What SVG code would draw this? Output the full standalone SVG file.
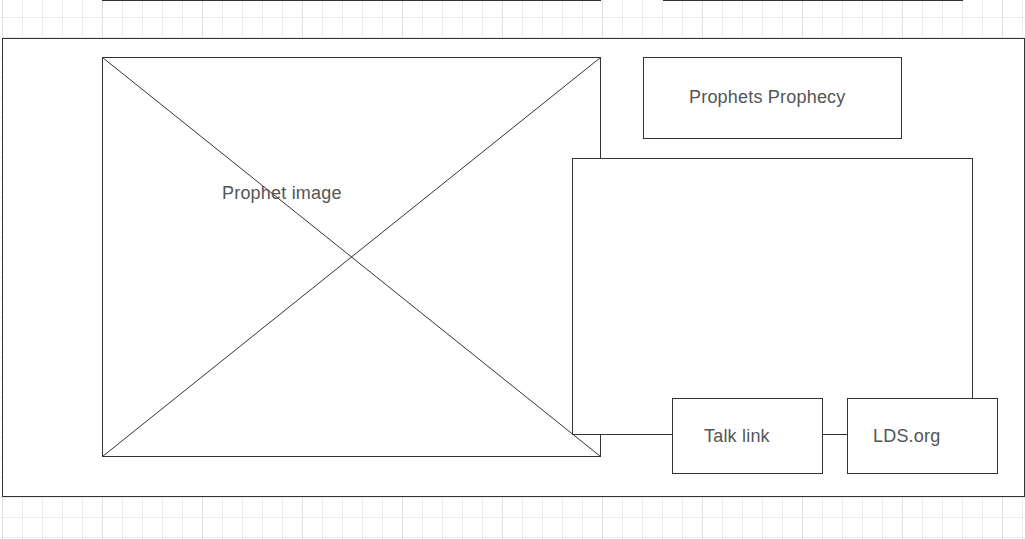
<svg xmlns="http://www.w3.org/2000/svg" width="1025" height="539" viewBox="0 0 1025 539">
  <defs>
    <pattern id="gridMinor" x="2" y="17" width="20" height="20" patternUnits="userSpaceOnUse">
      <path d="M0.5 0 V20 M0 0.5 H20" fill="none" stroke="#ececec" stroke-width="1"/>
    </pattern>
    <pattern id="gridMajor" x="2" y="17" width="100" height="100" patternUnits="userSpaceOnUse">
      <path d="M0.5 0 V100" fill="none" stroke="#e1e1e1" stroke-width="1"/>
    </pattern>
  </defs>
  <style>
    .box { fill: #ffffff; stroke: #333333; stroke-width: 1; }
    .edge { fill: none; stroke: #333333; stroke-width: 1; }
    .label { font-family: "Liberation Sans", Arial, sans-serif; font-size: 18px; letter-spacing: 0.2px; fill: #555555; }
  </style>

  <!-- canvas grid -->
  <rect x="0" y="0" width="1025" height="539" fill="#ffffff"/>
  <rect x="0" y="0" width="1025" height="539" fill="url(#gridMinor)"/>
  <rect x="0" y="0" width="1025" height="539" fill="url(#gridMajor)"/>

  <!-- edges of shapes sitting above the visible area -->
  <g id="offscreen-edges">
    <line class="edge" x1="102" y1="0.5" x2="601" y2="0.5"/>
    <line class="edge" x1="663" y1="0.5" x2="963" y2="0.5"/>
  </g>

  <!-- page frame -->
  <g id="page-frame">
    <rect class="box" x="2.5" y="38.5" width="1022" height="458"/>
  </g>

  <!-- image placeholder -->
  <g id="prophet-image">
    <rect class="box" x="102.5" y="57.5" width="498" height="399"/>
    <line class="edge" x1="102.5" y1="57.5" x2="600.5" y2="456.5"/>
    <line class="edge" x1="600.5" y1="57.5" x2="102.5" y2="456.5"/>
    <text class="label" x="222" y="199">Prophet image</text>
  </g>

  <!-- title box -->
  <g id="prophets-prophecy">
    <rect class="box" x="643.5" y="57.5" width="258" height="81"/>
    <text class="label" x="689" y="103">Prophets Prophecy</text>
  </g>

  <!-- content panel -->
  <g id="content-panel">
    <rect class="box" x="572.5" y="158.5" width="400" height="276"/>
  </g>

  <!-- connectors -->
  <g id="connectors">
    <line class="edge" x1="822.5" y1="434.5" x2="847.5" y2="434.5"/>
  </g>

  <!-- link buttons -->
  <g id="talk-link">
    <rect class="box" x="672.5" y="398.5" width="150" height="75"/>
    <text class="label" x="704" y="441.5">Talk link</text>
  </g>
  <g id="lds-org">
    <rect class="box" x="847.5" y="398.5" width="150" height="75"/>
    <text class="label" x="873" y="441.5">LDS.org</text>
  </g>
</svg>
